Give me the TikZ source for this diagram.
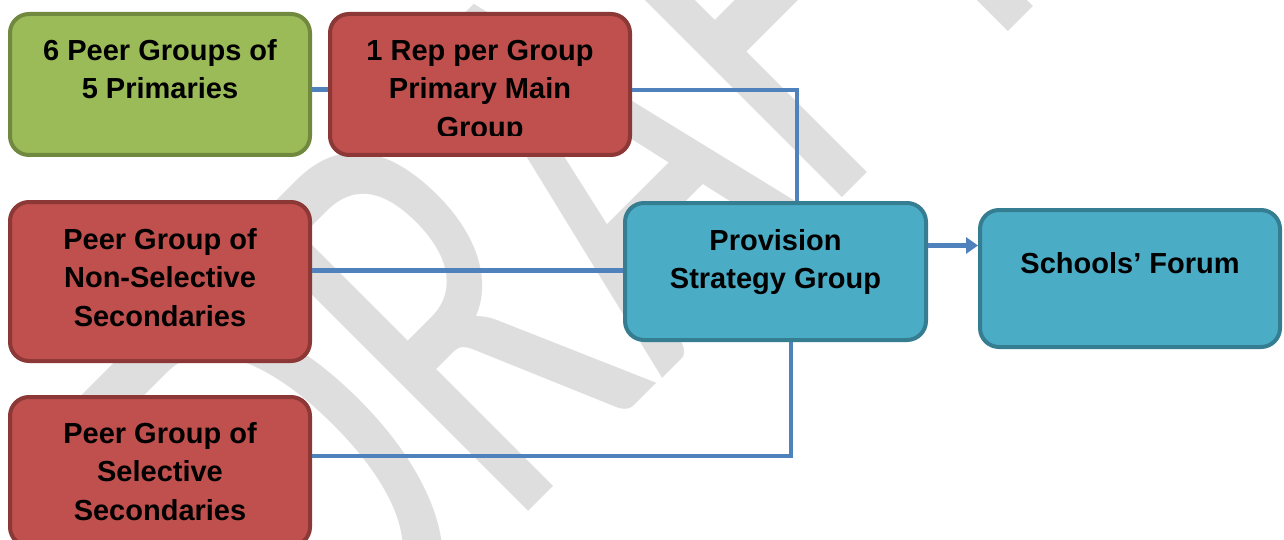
\documentclass[tikz,border=0pt]{standalone}
\usepackage{fontspec}
\setmainfont{Liberation Sans}
\newfontfamily\wmfont{Carlito}
\usetikzlibrary{arrows.meta}
\definecolor{gfill}{HTML}{9BBB59}
\definecolor{gline}{HTML}{71893F}
\definecolor{rfill}{HTML}{C0504D}
\definecolor{rline}{HTML}{8C3836}
\definecolor{tfill}{HTML}{4BACC6}
\definecolor{tline}{HTML}{357D91}
\definecolor{connblue}{HTML}{4F81BD}
\definecolor{wmgray}{HTML}{DEDEDE}
\newcommand{\fl}{\rule{0pt}{22pt}}
\begin{document}
\begin{tikzpicture}[x=1pt,y=-1pt,
  box/.style={rectangle, rounded corners=19pt, line width=4pt, inner sep=0pt},
  greenbox/.style={box, fill=gfill, draw=gline},
  redbox/.style={box, fill=rfill, draw=rline},
  tealbox/.style={box, fill=tfill, draw=tline},
  lbl/.style={font=\bfseries\fontsize{29}{38.5}\selectfont, align=center, inner sep=0pt, anchor=north, text=black},
  conn/.style={draw=connblue, line width=4.5pt},
  wmark/.style={font=\wmfont\fontsize{620}{620}\selectfont, text=wmgray, inner sep=0pt}
]
\useasboundingbox (0,0) rectangle (1284,540);
\clip (0,0) rectangle (1284,540);
\fill[white] (0,0) rectangle (1284,540);
% watermark
\node[wmark, anchor=base west, rotate=45, xscale=0.64] (wm) at (336,704) {DRAFT};
% boxes
\node[greenbox, minimum width=300pt, minimum height=141pt] (g) at (160,84.5) {};
\node[redbox, minimum width=300pt, minimum height=141pt] (r1) at (480,84.5) {};
\node[redbox, minimum width=300pt, minimum height=159pt] (r2) at (160,281.5) {};
\node[redbox, minimum width=300pt, minimum height=149pt] (r3) at (160,471.5) {};
\node[tealbox, minimum width=301pt, minimum height=137pt] (psg) at (775.5,271.5) {};
\node[tealbox, minimum width=300pt, minimum height=137pt] (sf) at (1130,278.5) {};
% junction coordinates
\coordinate (j0) at (0,89.5);
\coordinate (j1) at (797,90);
\coordinate (j2) at (0,270.5);
\coordinate (j3) at (791,456);
\coordinate (j4) at (0,245.5);
% connectors
\draw[conn] (g.east |- j0) -- (r1.west |- j0);
\draw[conn, line width=4pt] (r1.east |- j1) -| (psg.north -| j1);
\draw[conn, line width=5pt] (r2.east |- j2) -- (psg.west |- j2);
\draw[conn] (r3.east |- j3) -| (psg.south -| j3);
\draw[conn, line width=5pt, -{Triangle[length=12pt,width=16pt]}] (psg.east |- j4) -- (sf.west |- j4);
% labels
\node[lbl] (tg) at (160,38) {\fl 6 Peer Groups of\\5 Primaries};
\begin{scope}
\clip (330,14) rectangle (630,136);
\node[lbl] (tr1) at (480,38) {\fl 1 Rep per Group\\Primary Main\\Group};
\end{scope}
\node[lbl] (tr2) at (160,227) {\fl Peer Group of\\Non-Selective\\Secondaries};
\node[lbl] (tr3) at (160,421) {\fl Peer Group of\\Selective\\Secondaries};
\node[lbl] (tpsg) at (775.5,228) {\fl Provision\\Strategy Group};
\node[lbl] (tsf) at (1130,251) {\fl Schools’ Forum};
\end{tikzpicture}
\end{document}
